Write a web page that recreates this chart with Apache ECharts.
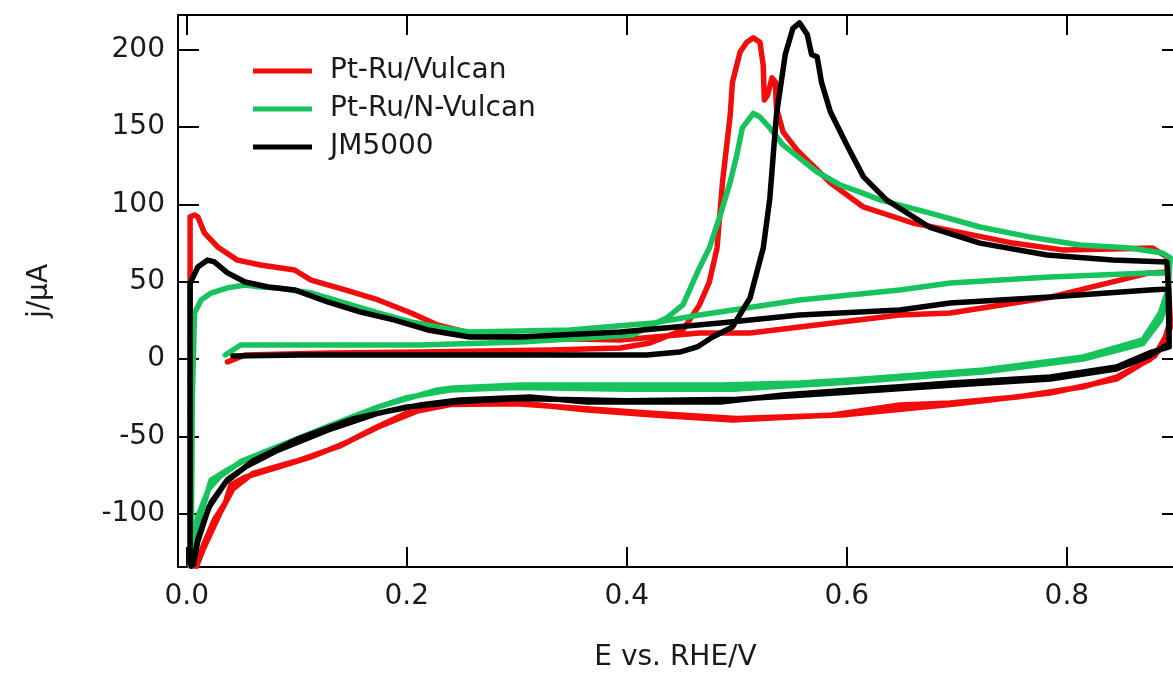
<!DOCTYPE html>
<html>
<head>
<meta charset="utf-8">
<script src="https://cdn.jsdelivr.net/npm/echarts@6/dist/echarts.min.js"></script>
<style>
html,body{margin:0;padding:0;background:#fff;}
#chart{width:1173px;height:673px;}
</style>
</head>
<body>
<div id="chart"></div>
<script>
// ---- data (E in V vs RHE, j in µA) ----
var seriesNames = ['Pt-Ru/Vulcan', 'Pt-Ru/N-Vulcan', 'JM5000'];
var xTicks = [0, 0.2, 0.4, 0.6, 0.8];
var yTicks = [-100, -50, 0, 50, 100, 150, 200];

var redE = [0.037,0.053,0.130,0.212,0.330,0.394,0.421,0.451,0.466,0.475,0.482,0.487,0.494,0.496,0.503,0.509,0.515,0.521,0.524,0.525,0.528,0.532,0.535,0.536,0.542,0.555,0.585,0.615,0.660,0.705,0.751,0.796,0.842,0.878,0.891,
  0.894,0.887,0.875,0.845,0.815,0.755,0.694,0.648,0.587,0.496,0.424,0.364,0.303,0.242,0.212,0.174,0.144,0.113,0.083,0.053,0.040,0.035,0.025,0.016,0.010,0.007,
  0.003,0.003,0.007,0.010,0.016,0.028,0.046,0.067,0.098,0.113,0.144,0.174,0.204,0.228,0.257,0.318,0.394,0.466,0.512,0.557,0.648,0.694,0.785,0.875,0.892,
  0.894,0.880,0.845,0.785,0.694,0.600,0.500,0.420,0.360,0.300,0.240,0.200,0.170,0.140,0.100,0.060,0.042,0.030,0.015,0.009];
var redJ = [-1.9,2.6,3.9,4.5,5.8,7.1,10.4,18.8,35,49.8,71.8,114.6,158,179,198.7,205,207.8,205,190,167.6,170.9,181.9,179.3,162.5,147,135,114,98.4,88,81.6,75,70.6,71.2,71.8,66,
  25,7.8,-0.6,-11.7,-18,-24.6,-28.5,-29.8,-36.2,-39.5,-36.2,-33,-28.5,-28.5,-33,-44,-54.4,-63.4,-70,-76.4,-81.6,-93,-104,-119,-130,-134,
  -130,92,93.2,92,81.6,72.5,64,60.8,57.6,51.1,44.7,38.2,29.8,22,16.8,13.5,12.3,16.8,16.8,20.7,28.5,29.8,40,55.7,56.3,
  20,2,-13,-22,-29.5,-36,-38.5,-35,-32,-29,-29.5,-35,-45,-56,-66,-74,-84,-100,-123,-134];

var greenE = [0.035,0.049,0.130,0.212,0.303,0.364,0.405,0.436,0.451,0.466,0.475,0.485,0.494,0.500,0.505,0.515,0.521,0.530,0.542,0.557,0.573,0.594,0.612,0.630,0.675,0.721,0.766,0.812,0.857,0.887,0.894,
  0.892,0.885,0.869,0.815,0.724,0.603,0.557,0.485,0.394,0.303,0.242,0.228,0.174,0.128,0.083,0.053,0.037,0.022,0.016,0.008,0.004,
  0.004,0.005,0.007,0.013,0.022,0.037,0.053,0.067,0.083,0.113,0.144,0.174,0.204,0.228,0.257,0.348,0.424,0.466,0.557,0.648,0.694,0.785,0.875,0.892,
  0.893,0.885,0.869,0.815,0.724,0.600,0.500,0.400,0.300,0.240,0.200,0.170,0.130,0.085,0.050,0.030,0.020,0.010,0.005,0.003];
var greenJ = [2.6,9.1,9.1,9.1,11,13.6,15.5,26.5,35,58.9,71.8,93.2,114.6,132,149.5,159,156.6,149.5,138.5,130,121,112.6,108,103,94.5,85.4,79,73.8,71.8,68.6,65.4,
  44.7,29.8,12.3,1.3,-7.1,-13.6,-15.5,-16.8,-16.8,-16.8,-18.8,-20,-31,-44,-57,-65.4,-71.8,-78.3,-93.2,-110.7,-128,
  -134,-26.5,29.8,38.2,42.7,46,47.9,46.6,46,42.7,36.2,29.8,24,20.7,17.5,18.8,23.3,28.5,38.2,44.7,49.2,53,55.7,55.7,
  40,25,10,0,-8.5,-15,-19.5,-19.5,-18.5,-20,-25,-32,-43,-56,-66,-76,-84,-102,-125,-134];

var blackE = [0.042,0.103,0.212,0.330,0.418,0.448,0.464,0.478,0.496,0.512,0.524,0.530,0.536,0.544,0.551,0.557,0.564,0.568,0.573,0.577,0.585,0.600,0.615,0.636,0.675,0.721,0.782,0.842,0.891,
  0.893,0.893,0.875,0.845,0.785,0.694,0.648,0.603,0.542,0.485,0.364,0.312,0.248,0.212,0.174,0.128,0.083,0.053,0.037,0.022,0.016,0.010,0.007,0.004,
  0.003,0.003,0.003,0.010,0.019,0.025,0.037,0.053,0.074,0.098,0.128,0.158,0.189,0.219,0.257,0.303,0.394,0.485,0.557,0.648,0.694,0.785,0.875,0.892,
  0.893,0.875,0.845,0.785,0.694,0.600,0.500,0.400,0.300,0.250,0.200,0.150,0.100,0.060,0.035,0.020,0.010,0.006];
var blackJ = [1.9,2.6,2.6,2.6,2.6,4.5,7.8,14.2,20.7,39.5,71.8,104,158,197,214,217.5,210,197,195.5,179,160,138.5,118,103,85.4,75,67.3,64,62.8,
  38,7.8,3.9,-5.2,-11.7,-15.5,-18,-20,-23.3,-27.8,-27.8,-24.6,-26.5,-29.8,-35,-46,-59,-70,-78,-93,-104,-117,-128,-134,
  -130,-26,49,59.5,64,62.8,55.7,49.8,46.6,44.7,36.9,30.4,25.2,18.8,14.2,14.2,17.5,23.3,28.5,31.7,36.2,40.1,44.7,45.3,
  10,2,-6.5,-13,-17,-21.5,-26,-27,-25.5,-27.5,-31,-39,-52,-66,-80,-96,-118,-133];

var colors = ['#f20d0d', '#17c35c', '#000000'];

function pairs(xs, ys) {
  var out = [];
  for (var i = 0; i < xs.length; i++) out.push([xs[i], ys[i]]);
  return out;
}
var allData = [pairs(redE, redJ), pairs(greenE, greenJ), pairs(blackE, blackJ)];

var FONT = 'DejaVu Sans';
var chart = echarts.init(document.getElementById('chart'), null, {renderer: 'canvas'});

function xAxisCfg(pos, showLabel) {
  return {
    type: 'value', position: pos, min: -0.008, max: 0.8965,
    axisLine: {show: true, onZero: false, lineStyle: {color: '#000', width: 2}},
    axisTick: {show: true, inside: true, length: 20, customValues: xTicks, lineStyle: {color: '#000', width: 2}},
    axisLabel: {show: showLabel, customValues: xTicks, margin: 16, color: '#1a1a1a', fontFamily: FONT, fontSize: 28,
      formatter: function (v) { return v.toFixed(1); }},
    splitLine: {show: false},
    name: showLabel ? 'E vs. RHE/V' : '', nameLocation: 'middle', nameGap: 77,
    nameTextStyle: {color: '#1a1a1a', fontFamily: FONT, fontSize: 28}
  };
}
function yAxisCfg(pos, showLabel, tickLen, showLine) {
  return {
    type: 'value', position: pos, min: -134.6, max: 222.6,
    axisLine: {show: showLine, onZero: false, lineStyle: {color: '#000', width: 2}},
    axisTick: {show: true, inside: true, length: tickLen, customValues: yTicks, lineStyle: {color: '#000', width: 2}},
    axisLabel: {show: showLabel, customValues: yTicks, margin: 13, color: '#1a1a1a', fontFamily: FONT, fontSize: 28},
    splitLine: {show: false},
    name: showLabel ? 'j/\u03BCA' : '', nameLocation: 'middle', nameGap: 124, nameRotate: 90,
    nameTextStyle: {color: '#1a1a1a', fontFamily: FONT, fontSize: 28}
  };
}

var series = seriesNames.map(function (name, i) {
  return {
    name: name, type: 'line', data: allData[i], xAxisIndex: 0, yAxisIndex: 0,
    symbol: 'none', showSymbol: false, smooth: false, clip: true, animation: false,
    color: colors[i],
    lineStyle: {color: colors[i], width: 5.5, cap: 'round', join: 'round'},
    z: 2 + i
  };
});

chart.setOption({
  animation: false,
  backgroundColor: '#ffffff',
  grid: {left: 178, right: 0, top: 15, bottom: 106, containLabel: false, outerBoundsMode: 'none'},
  legend: {
    show: true, orient: 'vertical', left: 248, top: 51,
    icon: 'rect', itemWidth: 59, itemHeight: 5, itemGap: 8,
    data: seriesNames,
    textStyle: {color: '#1a1a1a', fontFamily: FONT, fontSize: 28, lineHeight: 30, padding: [0, 0, 0, 13]}
  },
  xAxis: [xAxisCfg('bottom', true), xAxisCfg('top', false)],
  yAxis: [yAxisCfg('left', true, 21, true), yAxisCfg('right', false, 11, false)],
  series: series
});
</script>
</body>
</html>
